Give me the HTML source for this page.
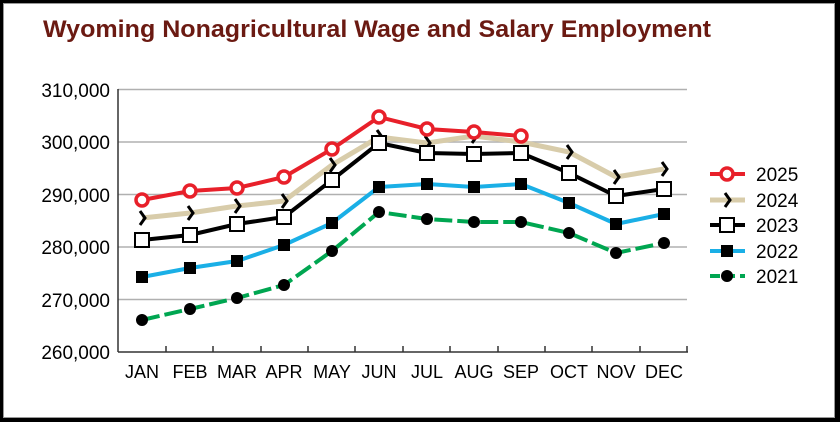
<!DOCTYPE html>
<html><head><meta charset="utf-8"><style>
html,body{margin:0;padding:0;background:#fff}
svg{display:block}
text{font-family:"Liberation Sans",sans-serif}
</style></head><body>
<svg width="840" height="422" viewBox="0 0 840 422" xmlns="http://www.w3.org/2000/svg">
<rect x="0" y="0" width="840" height="422" fill="#000"/>
<rect x="3" y="3" width="832" height="415" fill="#999"/>
<rect x="4" y="4" width="830" height="413" fill="#fff"/>
<text x="43" y="37" font-size="24" font-weight="bold" fill="#6b1a12" textLength="668" lengthAdjust="spacingAndGlyphs">Wyoming Nonagricultural Wage and Salary Employment</text>
<g stroke="#b0b0b0" stroke-width="1.5">
<line x1="118" y1="89.5" x2="687" y2="89.5"/>
<line x1="118" y1="142" x2="687" y2="142"/>
<line x1="118" y1="194.5" x2="687" y2="194.5"/>
<line x1="118" y1="247" x2="687" y2="247"/>
<line x1="118" y1="299.5" x2="687" y2="299.5"/>
</g>
<g stroke="#333" stroke-width="1.5">
<line x1="118" y1="89" x2="118" y2="352"/>
<line x1="118" y1="352" x2="688" y2="352"/>
<line x1="166" y1="346" x2="166" y2="352"/><line x1="213" y1="346" x2="213" y2="352"/><line x1="261" y1="346" x2="261" y2="352"/><line x1="308" y1="346" x2="308" y2="352"/><line x1="355" y1="346" x2="355" y2="352"/><line x1="403" y1="346" x2="403" y2="352"/><line x1="450" y1="346" x2="450" y2="352"/><line x1="498" y1="346" x2="498" y2="352"/><line x1="545" y1="346" x2="545" y2="352"/><line x1="592" y1="346" x2="592" y2="352"/><line x1="640" y1="346" x2="640" y2="352"/><line x1="687" y1="346" x2="687" y2="352"/>
</g>
<g font-size="19" fill="#000" text-anchor="end">
<text x="110" y="97">310,000</text><text x="110" y="149">300,000</text><text x="110" y="202">290,000</text><text x="110" y="254">280,000</text><text x="110" y="307">270,000</text><text x="110" y="359">260,000</text>
</g>
<g font-size="18" fill="#000" text-anchor="middle">
<text x="142" y="378">JAN</text><text x="190" y="378">FEB</text><text x="237" y="378">MAR</text><text x="284" y="378">APR</text><text x="332" y="378">MAY</text><text x="379" y="378">JUN</text><text x="427" y="378">JUL</text><text x="474" y="378">AUG</text><text x="521" y="378">SEP</text><text x="569" y="378">OCT</text><text x="616" y="378">NOV</text><text x="664" y="378">DEC</text>
</g>
<!-- 2021 -->
<polyline fill="none" stroke="#00a651" stroke-width="4" stroke-dasharray="18,5" points="142,320 190,309 237,298 284,285 332,251 379,212 427,219 474,222 521,222 569,233 616,253 664,243"/>
<g fill="#000"><circle cx="142" cy="320" r="6"/><circle cx="190" cy="309" r="6"/><circle cx="237" cy="298" r="6"/><circle cx="284" cy="285" r="6"/><circle cx="332" cy="251" r="6"/><circle cx="379" cy="212" r="6"/><circle cx="427" cy="219" r="6"/><circle cx="474" cy="222" r="6"/><circle cx="521" cy="222" r="6"/><circle cx="569" cy="233" r="6"/><circle cx="616" cy="253" r="6"/><circle cx="664" cy="243" r="6"/></g>
<!-- 2022 -->
<polyline fill="none" stroke="#1aafe6" stroke-width="4" points="142,277 190,268 237,261 284,245 332,223 379,187 427,184 474,187 521,184 569,203 616,224 664,214"/>
<g fill="#000"><rect x="136" y="271" width="12" height="12"/><rect x="184" y="262" width="12" height="12"/><rect x="231" y="255" width="12" height="12"/><rect x="278" y="239" width="12" height="12"/><rect x="326" y="217" width="12" height="12"/><rect x="373" y="181" width="12" height="12"/><rect x="421" y="178" width="12" height="12"/><rect x="468" y="181" width="12" height="12"/><rect x="515" y="178" width="12" height="12"/><rect x="563" y="197" width="12" height="12"/><rect x="610" y="218" width="12" height="12"/><rect x="658" y="208" width="12" height="12"/></g>
<!-- 2024 -->
<polyline fill="none" stroke="#d8ccaa" stroke-width="5" points="142,218 190,213 237,206 284,201 332,165 379,137 427,143 474,136 521,142 569,152 616,177 664,169"/>
<g fill="none" stroke="#000" stroke-width="3"><path d="M140,211 L145,218 L140,225"/><path d="M188,206 L193,213 L188,220"/><path d="M235,199 L240,206 L235,213"/><path d="M282,194 L287,201 L282,208"/><path d="M330,158 L335,165 L330,172"/><path d="M377,130 L382,137 L377,144"/><path d="M425,136 L430,143 L425,150"/><path d="M472,129 L477,136 L472,143"/><path d="M567,145 L572,152 L567,159"/><path d="M614,170 L619,177 L614,184"/><path d="M662,162 L667,169 L662,176"/></g>
<!-- 2023 -->
<polyline fill="none" stroke="#000" stroke-width="4" points="142,240 190,235 237,224 284,217 332,180 379,143 427,153 474,154 521,153 569,173 616,196 664,189"/>
<g fill="#fff" stroke="#000" stroke-width="2"><rect x="135" y="233" width="14" height="14"/><rect x="183" y="228" width="14" height="14"/><rect x="230" y="217" width="14" height="14"/><rect x="277" y="210" width="14" height="14"/><rect x="325" y="173" width="14" height="14"/><rect x="372" y="136" width="14" height="14"/><rect x="420" y="146" width="14" height="14"/><rect x="467" y="147" width="14" height="14"/><rect x="514" y="146" width="14" height="14"/><rect x="562" y="166" width="14" height="14"/><rect x="609" y="189" width="14" height="14"/><rect x="657" y="182" width="14" height="14"/></g>
<!-- 2025 -->
<polyline fill="none" stroke="#e8202a" stroke-width="4" points="142,200 190,191 237,188 284,177 332,149 379,117 427,129 474,132 521,136"/>
<g fill="#fff" stroke="#e8202a" stroke-width="3.5"><circle cx="142" cy="200" r="6"/><circle cx="190" cy="191" r="6"/><circle cx="237" cy="188" r="6"/><circle cx="284" cy="177" r="6"/><circle cx="332" cy="149" r="6"/><circle cx="379" cy="117" r="6"/><circle cx="427" cy="129" r="6"/><circle cx="474" cy="132" r="6"/><circle cx="521" cy="136" r="6"/></g>
<!-- legend -->
<line x1="710" y1="174" x2="745" y2="174" stroke="#e8202a" stroke-width="4"/><circle cx="727" cy="174" r="6" fill="#fff" stroke="#e8202a" stroke-width="3.5"/>
<line x1="710" y1="200" x2="745" y2="200" stroke="#d8ccaa" stroke-width="5"/><path d="M725,193 L730,200 L725,207" fill="none" stroke="#000" stroke-width="3"/>
<line x1="710" y1="225" x2="745" y2="225" stroke="#000" stroke-width="4"/><rect x="720" y="218" width="14" height="14" fill="#fff" stroke="#000" stroke-width="2"/>
<line x1="710" y1="251" x2="745" y2="251" stroke="#1aafe6" stroke-width="4"/><rect x="721" y="245" width="12" height="12" fill="#000"/>
<line x1="710" y1="276" x2="745" y2="276" stroke="#00a651" stroke-width="4" stroke-dasharray="10,5"/><circle cx="727" cy="276" r="6" fill="#000"/>
<g font-size="19" fill="#000"><text x="756" y="181">2025</text><text x="756" y="207">2024</text><text x="756" y="232">2023</text><text x="756" y="258">2022</text><text x="756" y="283">2021</text></g>
</svg>
</body></html>
